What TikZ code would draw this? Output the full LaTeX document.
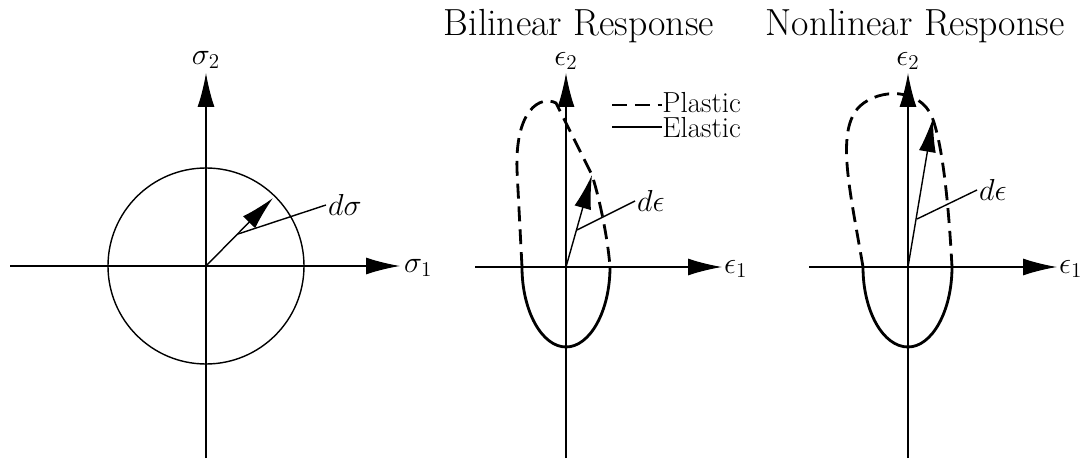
\documentclass[tikz,border=0pt]{standalone}
\usepackage{amsmath,amssymb}
\usepackage{tikz}
\usetikzlibrary{arrows.meta}

\begin{document}
\begin{tikzpicture}[x=0.02cm, y=-0.02cm,
    axis/.style={line width=0.8pt, -{Latex[length=0.68cm, width=0.34cm]}},
    thin/.style={line width=0.8pt},
    plastic/.style={line width=1.6pt, dash pattern=on 8.5pt off 4.5pt},
    elastic/.style={line width=1.6pt},
    lbl/.style={font=\fontsize{16.5}{19}\selectfont, inner sep=1pt},
    title/.style={font=\fontsize{21.5}{25}\selectfont, inner sep=0pt}]
    \useasboundingbox (0,0) rectangle (1086,459);

    % Stress space
    \coordinate (o1) at (206,266);
    \coordinate (x1) at (10,266);
    \coordinate (y1) at (206,458);
    \node[lbl, anchor=west] (s1) at (402,268) {$\sigma_1$};
    \node[lbl, anchor=south] (s2) at (206,71) {$\sigma_2$};
    \draw[axis] (x1) -- (400,266);
    \draw[axis] (y1) -- (206,73);
    \draw[thin] (o1) circle[radius=98];
    \coordinate (ds) at (273,198);
    \coordinate (dsm) at (238,234);
    \node[lbl, anchor=west] (dsl) at (326,205) {$d\sigma$};
    \draw[axis] (o1) -- (ds);
    \draw[thin] (dsm) -- (dsl.west);

    % Bilinear response
    \node[title] (tb) at (579,26) {Bilinear Response};
    \coordinate (o2) at (566,267);
    \coordinate (x2) at (475,267);
    \coordinate (y2) at (566,458);
    \node[lbl, anchor=west] (e21) at (722,269) {$\epsilon_1$};
    \node[lbl, anchor=south] (e22) at (566,72) {$\epsilon_2$};
    \draw[axis] (x2) -- (722,267);
    \draw[axis] (y2) -- (566,73);
    \draw[elastic] (522,267) .. controls (522,311) and (542,347) .. (566,347)
        .. controls (590,347) and (610,311) .. (610,267);
    \draw[plastic] (522,267) -- (517,170) .. controls (515,110) and (540,95) .. (556,103)
        -- (592,175) .. controls (600,200) and (608,240) .. (610,267);
    \coordinate (de2) at (592,175);
    \coordinate (de2m) at (577,230);
    \node[lbl, anchor=west] (de2l) at (635,201) {$d\epsilon$};
    \draw[axis] (o2) -- (de2);
    \draw[thin] (de2m) -- (de2l.west);

    % Legend
    \node[lbl, anchor=west, inner sep=0pt] (lp) at (662,103) {Plastic};
    \node[lbl, anchor=west, inner sep=0pt] (le) at (662,128) {Elastic};
    \draw[plastic] (612,105) -- (lp.west |- 612,105);
    \draw[thin] (612,127) -- (le.west |- 612,127);

    % Nonlinear response
    \node[title] (tn) at (915,26) {Nonlinear Response};
    \coordinate (o3) at (908,267);
    \coordinate (x3) at (809,267);
    \coordinate (y3) at (908,458);
    \node[lbl, anchor=west] (e31) at (1057,269) {$\epsilon_1$};
    \node[lbl, anchor=south] (e32) at (908,72) {$\epsilon_2$};
    \draw[axis] (x3) -- (1057,267);
    \draw[axis] (y3) -- (908,73);
    \draw[elastic] (863,267) .. controls (863,311) and (883,347) .. (908,347)
        .. controls (932,347) and (952,311) .. (952,267);
    \draw[plastic] (863,267) .. controls (850,190) and (835,130) .. (860,106)
        .. controls (880,88) and (920,88) .. (932,117)
        .. controls (945,150) and (950,230) .. (952,267);
    \coordinate (de3) at (933,118);
    \coordinate (de3m) at (917,219);
    \node[lbl, anchor=west] (de3l) at (977,190) {$d\epsilon$};
    \draw[axis] (o3) -- (de3);
    \draw[thin] (de3m) -- (de3l.west);
\end{tikzpicture}
\end{document}
